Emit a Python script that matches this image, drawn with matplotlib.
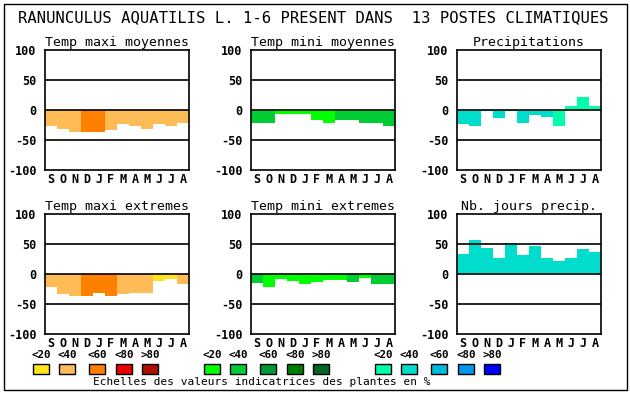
import matplotlib
matplotlib.use("Agg")
import matplotlib.pyplot as plt
from matplotlib.patches import Rectangle

W, H = 630, 394

months = ["S", "O", "N", "D", "J", "F", "M", "A", "M", "J", "J", "A"]
scale_labels = ["<20", "<40", "<60", "<80", ">80"]

# palettes (one per column) for indicator classes 0..4
temp_max_cols = ["#FFE41A", "#FFBB55", "#FF8000", "#EE0000", "#AA1100"]
temp_min_cols = ["#00FF00", "#00CC33", "#009933", "#007F00", "#006622"]
precip_cols = ["#00FFAA", "#00DDCC", "#00BBDD", "#0099EE", "#0000FF"]

title = "RANUNCULUS AQUATILIS L. 1-6 PRESENT DANS  13 POSTES CLIMATIQUES"

maxmoy_vals = [-27, -31, -36, -36, -37, -34, -24, -26, -31, -23, -26, -22]
maxmoy_cls = [1, 1, 1, 2, 2, 1, 1, 1, 1, 1, 1, 1]

minmoy_vals = [-21, -21, -7, -6, -6, -16, -21, -16, -17, -21, -21, -27]
minmoy_cls = [1, 1, 0, 0, 0, 0, 0, 1, 1, 1, 1, 1]

precip_vals = [-24, -27, -2, -14, -2, -21, -8, -12, -26, 7, 22, 6]
precip_cls = [1, 1, 1, 1, 1, 1, 1, 1, 0, 0, 0, 0]

maxext_vals = [-22, -34, -37, -37, -32, -37, -34, -32, -32, -12, -8, -17]
maxext_cls = [1, 1, 1, 2, 2, 2, 1, 1, 1, 0, 0, 1]

minext_vals = [-15, -21, -8, -11, -17, -14, -10, -10, -14, -6, -17, -17]
minext_cls = [1, 0, 0, 0, 0, 0, 0, 0, 1, 0, 1, 1]

nbj_vals = [34, 57, 44, 26, 52, 31, 46, 26, 22, 27, 41, 36]
nbj_cls = [1, 1, 1, 1, 1, 1, 1, 1, 1, 1, 1, 1]

panels = [
    ("Temp maxi moyennes", maxmoy_vals, maxmoy_cls, temp_max_cols),
    ("Temp mini moyennes", minmoy_vals, minmoy_cls, temp_min_cols),
    ("Precipitations", precip_vals, precip_cls, precip_cols),
    ("Temp maxi extremes", maxext_vals, maxext_cls, temp_max_cols),
    ("Temp mini extremes", minext_vals, minext_cls, temp_min_cols),
    ("Nb. jours precip.", nbj_vals, nbj_cls, precip_cols),
]

MONO = "DejaVu Sans Mono"

def px_axes(fig, x0, y0, w, h):
    return fig.add_axes([x0 / W, 1 - (y0 + h) / H, w / W, h / H])

fig = plt.figure(figsize=(W / 100, H / 100), dpi=100)
fig.patch.set_facecolor("white")

# outer frame
fig.patches.append(Rectangle((4 / W, 1 - 390 / H), 623 / W, 386 / H,
                             transform=fig.transFigure, fill=False,
                             edgecolor="black", lw=1))

fig.text(313 / W, 1 - 18 / H, title, ha="center", va="center",
         family=MONO, fontsize=11.2)

col_x = [45, 251, 457]
row_y = [50, 214]

for i, (name, vals, cls, pal) in enumerate(panels):
    r, c = divmod(i, 3)
    ax = px_axes(fig, col_x[c], row_y[r], 144, 120)
    ax.bar(range(12), vals, width=1.0, color=[pal[k] for k in cls],
           linewidth=0, zorder=1)
    for yy in (50, 0, -50):
        ax.axhline(yy, color="black", lw=1.2, zorder=3)
    ax.set_xlim(-0.5, 11.5)
    ax.set_ylim(-100, 100)
    ax.set_yticks([100, 50, 0, -50, -100])
    ax.set_yticklabels(["100", "50", "0", "-50", "-100"], family=MONO,
                       fontweight="bold", fontsize=8.5)
    ax.set_xticks(range(12))
    ax.set_xticklabels(months, family=MONO, fontweight="bold", fontsize=8.5)
    ax.tick_params(length=0, pad=2)
    ax.tick_params(axis="y", pad=6)
    for s in ax.spines.values():
        s.set_linewidth(1.2)
    ax.set_title(name, family=MONO, fontsize=9.5, pad=3)

# legend scales under each column
box_x = [[33, 59, 89, 116, 142], [204, 230, 260, 287, 313],
         [375, 401, 431, 458, 484]]
pals = [temp_max_cols, temp_min_cols, precip_cols]
for c in range(3):
    for k in range(5):
        bx = box_x[c][k]
        fig.patches.append(Rectangle((bx / W, 1 - 374 / H), 16 / W, 10 / H,
                                     transform=fig.transFigure,
                                     facecolor=pals[c][k], edgecolor="black",
                                     lw=1))
        fig.text((bx + 8) / W, 1 - 355 / H, scale_labels[k], ha="center",
                 va="center", family=MONO, fontweight="bold", fontsize=7.8)

fig.text(262 / W, 1 - 382 / H,
         "Echelles des valeurs indicatrices des plantes en %",
         ha="center", va="center", family=MONO, fontsize=8)

fig.savefig("out.png", dpi=100)
